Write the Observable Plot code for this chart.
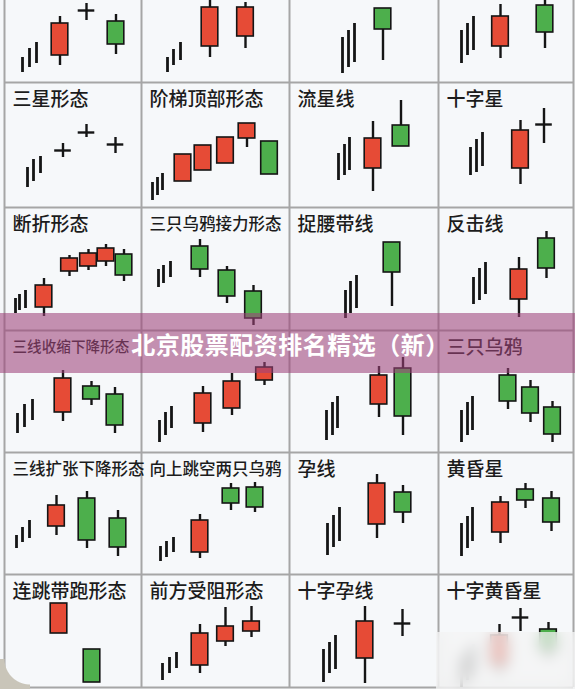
<!DOCTYPE html>
<html><head><meta charset="utf-8">
<script src="https://cdn.jsdelivr.net/npm/d3@7"></script>
<script src="https://cdn.jsdelivr.net/npm/@observablehq/plot@0.6"></script>
<style>
html,body{margin:0;padding:0;background:#f6f8fa;}
#wrap{position:relative;width:575px;height:689px;overflow:hidden;background:#f6f8fa;}
#chart svg{display:block;}
#banner{position:absolute;left:0;top:313px;width:575px;height:60px;background:rgba(158,68,122,0.58);display:flex;align-items:center;justify-content:center;color:#fff;font-family:"Noto Sans CJK SC";font-weight:700;font-size:24px;letter-spacing:0.5px;padding-left:6px;box-sizing:border-box;}
#blur{position:absolute;left:436px;top:632px;width:139px;height:57px;background:rgba(244,244,244,0.72);backdrop-filter:blur(7px);-webkit-backdrop-filter:blur(7px);}
#corner{position:absolute;left:0;bottom:0;width:30px;height:30px;background:radial-gradient(circle at 30px 0px, transparent 25px, #c9c5b9 26px);}
</style></head>
<body>
<div id="wrap"><div id="chart"></div><div id="banner">北京股票配资排名精选（新）</div><div id="blur"></div><div id="corner"></div></div>
<script>
// grid layout: column and row boundaries of the pattern table
const colEdges = [4, 141, 289, 438, 573];
const rowEdges = [-41, 82, 207, 330, 452, 574, 697];

// pattern titles, row-major (first row is cut off at the top; two are hidden under the banner)
const titles = [
  "", "", "", "",
  "三星形态", "阶梯顶部形态", "流星线", "十字星",
  "断折形态", "三只乌鸦接力形态", "捉腰带线", "反击线",
  "三线收缩下降形态", "", "", "三只乌鸦",
  "三线扩张下降形态", "向上跳空两只乌鸦", "孕线", "黄昏星",
  "连跳带跑形态", "前方受阻形态", "十字孕线", "十字黄昏星"
];

// preceding trend strokes per pattern: [slot, low, high]
const trends = [
  [[18,10,25],[25,15,34],[32,19,40]],
  [[26,10,25],[32,17,33],[39,22,40]],
  [[53,9,45],[59,15,52],[65,20,59]],
  [[23,19,52],[29,27,59],[35,32,66]],
  [[23,20,40],[29,26,48],[36,34,51]],
  [[11,7,25],[16,12,30],[21,17,34]],
  [[49,27,54],[55,32,63],[60,37,70]],
  [[32,32,60],[38,35,68],[44,41,75]],
  [[11,17,32],[15,20,36],[21,22,40]],
  [[17,43,61],[22,47,65],[29,53,69]],
  [[56,12,40],[61,17,49],[67,22,55]],
  [[35,26,53],[41,30,62],[47,36,68]],
  [[13,19,39],[20,25,48],[28,32,53]],
  [[18,10,32],[24,17,40],[30,24,46]],
  [[37,12,42],[43,17,50],[48,24,56]],
  [[23,10,42],[29,17,50],[34,22,56]],
  [[12,26,39],[18,32,47],[25,36,54]],
  [[19,13,28],[25,17,33],[32,22,37]],
  [[38,19,51],[44,27,59],[50,33,67]],
  [[23,18,51],[29,26,58],[34,33,67]],
  [],
  [[21,17,34],[28,24,40],[35,29,45]],
  [[34,15,48],[40,24,55],[46,28,62]],
  [[23,10,40],[29,17,47],[35,22,53]]
];

// candles per pattern: [slot, open, high, low, close]
const candles = [
  [[55.5,27,66,17,59],[82,72,79,62,72],[111.5,61,68,28,38]],
  [[68.5,36,85,25,75],[104,46,80,34,75]],
  [[93.5,74,74,22,53]],
  [[62,36,78,24,66],[106.5,77,84,34,50]],
  [[58.5,57,64,50,57],[82,75,83,70,75],[111,63,70,54,63]],
  [[41.5,26,53,26,53],[61.5,37,62,37,62],[84,44,70,44,70],[105.5,69,84,60,84],[128,66,66,33,33]],
  [[83.5,39,86,16,69],[111.5,82,107,61,61]],
  [[82,39,87,23,77],[105.5,83,99,64,83]],
  [[39.5,23,52,14,45],[65,59,75,54,72],[84,64,81,60,77],[101.5,69,86,64,82],[119.5,76,81,49,55]],
  [[58.5,84,91,53,61],[85.5,60,64,27,34],[112,39,45,5,12]],
  [[102.5,88,88,24,58]],
  [[80.5,31,73,13,61],[108,92,99,52,62]],
  [[58.5,40,82,31,74],[87,66,71,47,53],[110.5,58,65,19,27]],
  [[61.5,29,66,20,59],[90.5,44,79,37,71],[123,72,90,67,85]],
  [[89.5,48,86,35,77],[113.5,84,95,17,36]],
  [[69.5,77,84,43,51],[92,65,72,30,39],[114,45,51,10,18]],
  [[52,48,79,39,69],[82.5,76,83,26,34],[113.5,56,64,18,27]],
  [[58.5,22,60,16,54],[89.5,86,91,64,71],[113.5,87,92,62,67]],
  [[87.5,50,100,36,91],[113.5,82,89,51,62]],
  [[62,42,78,31,72],[87,85,91,66,74],[113,76,83,43,52]],
  [[54.5,64,94,64,94],[87.5,48,48,15,15]],
  [[58.5,32,73,24,64],[84,56,90,51,71],[110,66,91,60,76]],
  [[75.5,39,91,14,76],[113,74,88,61,74]],
  [[61,32,73,22,62],[82,80,89,66,80],[110,68,75,37,47]]
];

const RED = "#e64b36", GREEN = "#4daf4c", INK = "#151515", GRID = "#a6a6a6";
const ncol = 4;
// cell-local slot / price -> table coordinates
const gx = (c, v) => colEdges[c] + v;
const gy = (r, v) => rowEdges[r + 1] - v;
const half = 8.3;

const trendRows = [], candleRows = [], titleRows = [];
titles.forEach((t, i) => {
  const col = i % ncol, row = Math.floor(i / ncol);
  if (t) titleRows.push({t, x: gx(col, 8), y: rowEdges[row] + 17, size: t.length < 8 ? 19 : (col === 0 && row === 3 ? 14.6 : 16.5)});
  trends[i].forEach(([lx, lo, hi]) => trendRows.push({x: gx(col, lx), y1: gy(row, lo), y2: gy(row, hi)}));
  candles[i].forEach(([lx, o, h, l, c]) => candleRows.push({
    x: gx(col, lx), x1: gx(col, lx - half), x2: gx(col, lx + half),
    open: gy(row, o), close: gy(row, c), high: gy(row, h), low: gy(row, l),
    dir: c > o ? "up" : c < o ? "down" : "flat"
  }));
});
const bottomEdge = gy(5, 10);
const hLines = [...rowEdges.slice(1, 6), bottomEdge];

const chart = Plot.plot({
  width: 575, height: 689, margin: 0,
  x: {domain: [0, 575], range: [0, 575], axis: null},
  y: {domain: [0, 689], range: [0, 689], axis: null},
  style: {background: "transparent", overflow: "hidden"},
  marks: [
    Plot.ruleX(colEdges, {x: d => d, y1: 0, y2: bottomEdge, stroke: GRID, strokeWidth: 2}),
    Plot.ruleY(hLines, {y: d => d, x1: colEdges[0], x2: colEdges[4], stroke: GRID, strokeWidth: 2}),
    Plot.ruleX(trendRows, {x: "x", y1: "y1", y2: "y2", stroke: INK, strokeWidth: 2.8}),
    Plot.ruleX(candleRows, {x: "x", y1: "low", y2: "high", stroke: INK, strokeWidth: 2.4}),
    Plot.rect(candleRows.filter(d => d.dir === "up"), {x1: "x1", x2: "x2", y1: "open", y2: "close", fill: RED, stroke: INK, strokeWidth: 1.6}),
    Plot.rect(candleRows.filter(d => d.dir === "down"), {x1: "x1", x2: "x2", y1: "open", y2: "close", fill: GREEN, stroke: INK, strokeWidth: 1.6}),
    Plot.ruleY(candleRows.filter(d => d.dir === "flat"), {y: "open", x1: "x1", x2: "x2", stroke: INK, strokeWidth: 2.4}),
    Plot.text(titleRows, {x: "x", y: "y", text: "t", textAnchor: "start", fontSize: d => d.size, fontFamily: "Noto Sans CJK SC", fontWeight: 500, fill: "#1c1c1c"})
  ]
});
document.getElementById("chart").appendChild(chart);
</script>
</body></html>
